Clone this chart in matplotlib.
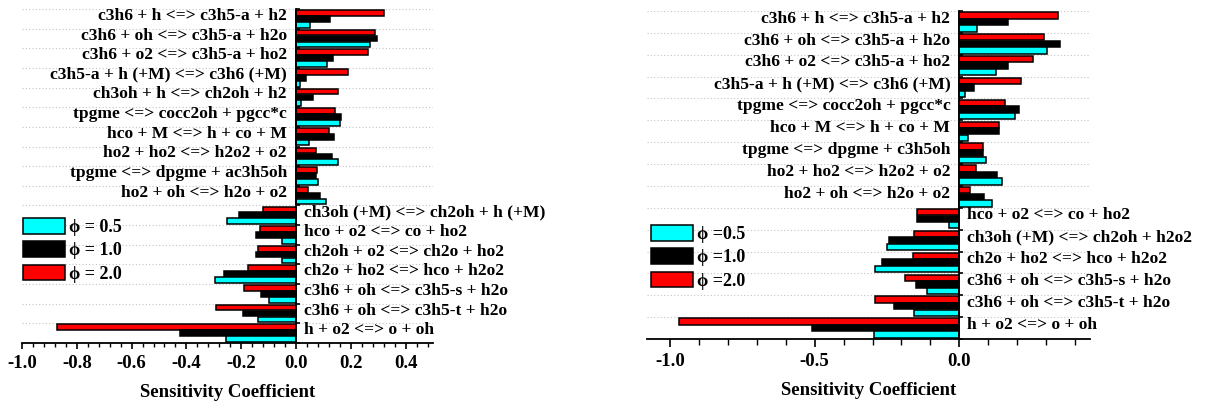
import numpy as np
import matplotlib
matplotlib.use("Agg")
import matplotlib.pyplot as plt
from matplotlib.ticker import MultipleLocator, FormatStrFormatter

plt.rcParams['font.family'] = ['Liberation Serif', 'DejaVu Serif']
plt.rcParams['font.weight'] = 'bold'
plt.rcParams['axes.unicode_minus'] = False

# ---- left panel data ----
reactions_left = [
    "c3h6 + h <=> c3h5-a + h2",
    "c3h6 + oh <=> c3h5-a + h2o",
    "c3h6 + o2 <=> c3h5-a + ho2",
    "c3h5-a + h (+M) <=> c3h6 (+M)",
    "ch3oh + h <=> ch2oh + h2",
    "tpgme <=> cocc2oh + pgcc*c",
    "hco + M <=> h + co + M",
    "ho2 + ho2 <=> h2o2 + o2",
    "tpgme <=> dpgme + ac3h5oh",
    "ho2 + oh <=> h2o + o2",
    "ch3oh (+M) <=> ch2oh + h (+M)",
    "hco + o2 <=> co + ho2",
    "ch2oh + o2 <=> ch2o + ho2",
    "ch2o + ho2 <=> hco + h2o2",
    "c3h6 + oh <=> c3h5-s + h2o",
    "c3h6 + oh <=> c3h5-t + h2o",
    "h + o2 <=> o + oh",
]
phi05_left = [0.050, 0.270, 0.114, 0.015, 0.020, 0.161, 0.049, 0.154, 0.082, 0.110,
              -0.252, -0.051, -0.050, -0.294, -0.098, -0.138, -0.256]
phi10_left = [0.124, 0.294, 0.135, 0.036, 0.063, 0.165, 0.140, 0.132, 0.074, 0.087,
              -0.208, -0.145, -0.145, -0.261, -0.128, -0.194, -0.425]
phi20_left = [0.320, 0.290, 0.262, 0.188, 0.153, 0.141, 0.120, 0.074, 0.076, 0.043,
              -0.121, -0.133, -0.140, -0.174, -0.189, -0.291, -0.872]
legend_left = ["\u03d5 = 0.5", "\u03d5 = 1.0", "\u03d5 = 2.0"]

# ---- right panel data ----
reactions_right = [
    "c3h6 + h <=> c3h5-a + h2",
    "c3h6 + oh <=> c3h5-a + h2o",
    "c3h6 + o2 <=> c3h5-a + ho2",
    "c3h5-a + h (+M) <=> c3h6 (+M)",
    "tpgme <=> cocc2oh + pgcc*c",
    "hco + M <=> h + co + M",
    "tpgme <=> dpgme + c3h5oh",
    "ho2 + ho2 <=> h2o2 + o2",
    "ho2 + oh <=> h2o + o2",
    "hco + o2 <=> co + ho2",
    "ch3oh (+M) <=> ch2oh + h2o2",
    "ch2o + ho2 <=> hco + h2o2",
    "c3h6 + oh <=> c3h5-s + h2o",
    "c3h6 + oh <=> c3h5-t + h2o",
    "h + o2 <=> o + oh",
]
phi05_right = [0.062, 0.303, 0.127, 0.020, 0.193, 0.031, 0.092, 0.148, 0.112,
               -0.037, -0.250, -0.292, -0.110, -0.156, -0.295]
phi10_right = [0.167, 0.349, 0.167, 0.051, 0.207, 0.136, 0.083, 0.130, 0.087,
               -0.145, -0.244, -0.268, -0.150, -0.227, -0.511]
phi20_right = [0.341, 0.292, 0.256, 0.212, 0.158, 0.138, 0.083, 0.058, 0.037,
               -0.148, -0.155, -0.160, -0.188, -0.292, -0.971]
legend_right = ["\u03d5 =0.5", "\u03d5 =1.0", "\u03d5 =2.0"]

colors = {"0.5": "#00FFFF", "1.0": "#000000", "2.0": "#FF0000"}

W, H = 1209, 405
fig = plt.figure(figsize=(W / 100, H / 100), dpi=100)


def px_axes(x0, y0, x1, y1):
    """Axes from pixel box (left, top, right, bottom), y measured from top."""
    return fig.add_axes([x0 / W, (H - y1) / H, (x1 - x0) / W, (y1 - y0) / H])


def draw_panel(ax, reactions, v05, v10, v20, labels, xlim, major, minor,
               tlen, leg_anchor):
    n = len(reactions)
    y = np.arange(n)
    h = 0.29
    off = 0.30
    b20 = ax.barh(y - off, v20, height=h, color=colors["2.0"], edgecolor="black",
                  linewidth=1.1, label=labels[2], zorder=3)
    b10 = ax.barh(y, v10, height=h, color=colors["1.0"], edgecolor="black",
                  linewidth=1.1, label=labels[1], zorder=3)
    b05 = ax.barh(y + off, v05, height=h, color=colors["0.5"], edgecolor="black",
                  linewidth=1.1, label=labels[0], zorder=3)

    ax.set_xlim(*xlim)
    ax.set_ylim(n - 0.5, -0.5)

    # reaction names beside the zero line
    for i, (name, a, b, c) in enumerate(zip(reactions, v05, v10, v20)):
        positive = (a + b + c) > 0
        ax.annotate(name, xy=(0, i - 0.15),
                    xytext=(-6.5 if positive else 5.5, 0),
                    textcoords="offset points",
                    ha="right" if positive else "left", va="center",
                    fontsize=12.6, fontweight="bold", zorder=4)

    for s in ("top", "right"):
        ax.spines[s].set_visible(False)
    ax.spines["left"].set_position(("data", 0))
    ax.spines["left"].set_linewidth(1.3)
    ax.spines["bottom"].set_linewidth(1.3)
    ax.spines["left"].set_zorder(5)

    ax.set_yticks(np.arange(-0.5, n, 1.0))
    ax.set_yticklabels([])
    ax.tick_params(axis="y", direction="in", length=3, width=1.2, left=True)
    ax.yaxis.grid(True, linestyle=(0, (1, 2)), color="#c4c4c4", linewidth=0.8,
                  zorder=0)

    ax.xaxis.set_major_locator(MultipleLocator(major))
    ax.xaxis.set_minor_locator(MultipleLocator(minor))
    ax.xaxis.set_major_formatter(FormatStrFormatter("%.1f"))
    ax.tick_params(axis="x", which="major", direction="out", length=tlen[0],
                   width=1.2, pad=4, labelsize=13.5)
    ax.tick_params(axis="x", which="minor", direction="out", length=tlen[1],
                   width=1.0)
    for t in ax.get_xticklabels():
        t.set_fontweight("bold")
    ax.set_xlabel("Sensitivity Coefficient", fontsize=13.5, fontweight="bold",
                  labelpad=9)

    ax.legend(handles=[b05, b10, b20], labels=labels, loc="upper left",
              bbox_to_anchor=(leg_anchor[0] / W, (H - leg_anchor[1]) / H),
              bbox_transform=fig.transFigure, frameon=False,
              prop={"size": 13, "weight": "bold"},
              handlelength=2.35, handleheight=0.95, handletextpad=0.2,
              labelspacing=0.3, borderpad=0, borderaxespad=0)


ax1 = px_axes(22, 9, 433, 343)
draw_panel(ax1, reactions_left, phi05_left, phi10_left, phi20_left, legend_left,
           (-1.0, 0.5), 0.2, 0.04, (4.5, 3), (23, 218))

ax2 = px_axes(647, 11, 1090, 339)
draw_panel(ax2, reactions_right, phi05_right, phi10_right, phi20_right,
           legend_right, (-1.08, 0.452), 0.5, 0.1, (6, 4), (651, 225))

fig.savefig("out.png", dpi=100)
